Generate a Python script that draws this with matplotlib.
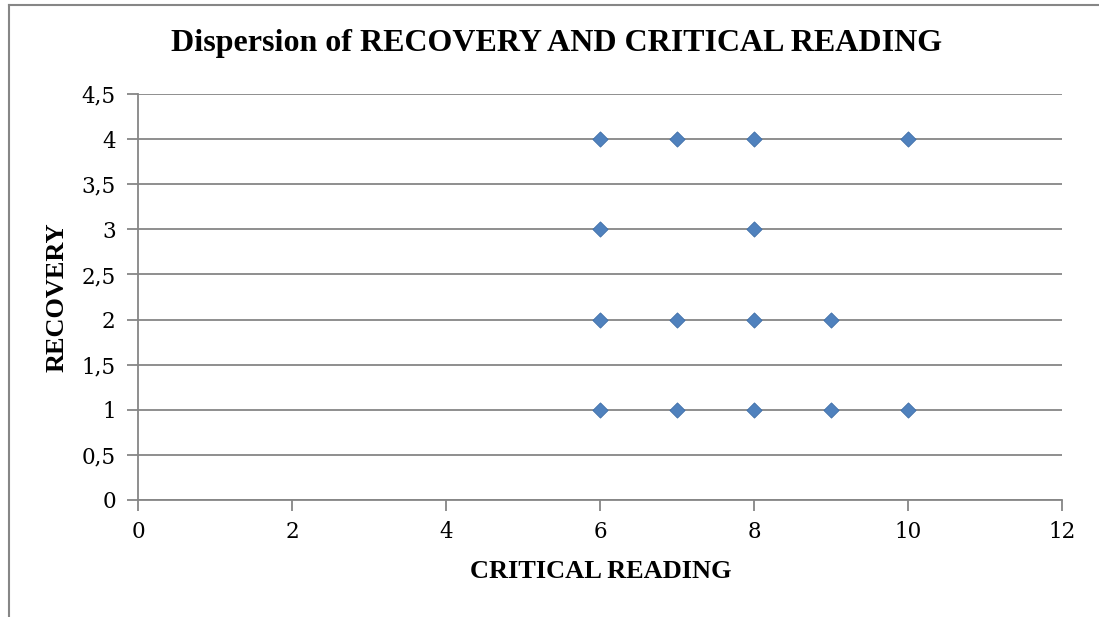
import matplotlib
matplotlib.use("Agg")
import matplotlib.pyplot as plt
from matplotlib.lines import Line2D

critical_reading = [6, 7, 8, 10, 6, 8, 6, 7, 8, 9, 6, 7, 8, 9, 10]
recovery = [4, 4, 4, 4, 3, 3, 2, 2, 2, 2, 1, 1, 1, 1, 1]
x_ticks = [0, 2, 4, 6, 8, 10, 12]
y_ticks = [0, 0.5, 1, 1.5, 2, 2.5, 3, 3.5, 4, 4.5]
y_tick_labels = ["0", "0,5", "1", "1,5", "2", "2,5", "3", "3,5", "4", "4,5"]

W, H = 1099, 617
fig = plt.figure(figsize=(W / 100, H / 100), dpi=100)
ax = fig.add_axes([138 / W, 1 - 500 / H, (1062 - 138) / W, (500 - 94) / H])

grid_col = "#868686"
ax.scatter(critical_reading, recovery, marker="D", s=60, color="#4F81BD",
           edgecolors="#3F6FA8", linewidths=0.6, zorder=3)
ax.set_xlim(0, 12)
ax.set_ylim(0, 4.5)
ax.set_xticks(x_ticks)
ax.set_yticks(y_ticks)
ax.set_yticklabels(y_tick_labels)
ax.yaxis.grid(True, color=grid_col, linewidth=1.3)
ax.set_axisbelow(True)
for s in ["top", "right"]:
    ax.spines[s].set_visible(False)
for s in ["left", "bottom"]:
    ax.spines[s].set_color(grid_col)
    ax.spines[s].set_linewidth(1.3)
ax.tick_params(axis="both", color=grid_col, width=1.3, length=8, direction="out",
               labelsize=15.5, labelcolor="black")
ax.tick_params(axis="y", pad=8)
ax.tick_params(axis="x", pad=7)
for lbl in ax.get_xticklabels() + ax.get_yticklabels():
    lbl.set_family("DejaVu Serif")

fig.text(557 / W, 1 - 44 / H, "Dispersion of RECOVERY AND CRITICAL READING",
         ha="center", va="center", fontsize=23, fontweight="bold",
         family="Liberation Serif")
fig.text(601 / W, 1 - 572 / H, "CRITICAL READING", ha="center", va="center",
         fontsize=19, fontweight="bold", family="Liberation Serif")
fig.text(57 / W, 1 - 297 / H, "RECOVERY", ha="center", va="center", rotation=90,
         fontsize=19, fontweight="bold", family="Liberation Serif")

# outer frame (left and top edges)
fig.add_artist(Line2D([8.5 / W, 8.5 / W], [0, 1 - 4.5 / H], transform=fig.transFigure,
                      color=grid_col, linewidth=1.5))
fig.add_artist(Line2D([8.5 / W, 1], [1 - 4.5 / H, 1 - 4.5 / H], transform=fig.transFigure,
                      color=grid_col, linewidth=1.5))

fig.savefig("out.png", dpi=100)
